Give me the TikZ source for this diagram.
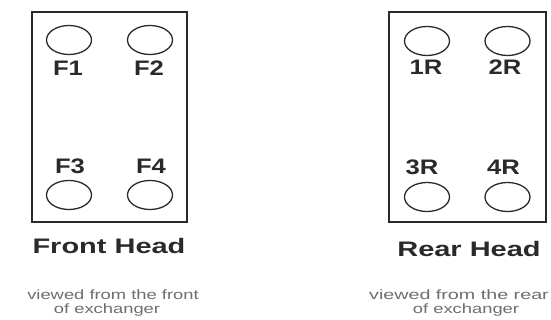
\documentclass[tikz,border=0pt]{standalone}
\usepackage{fontspec}
\setmainfont{Liberation Sans}
\newfontfamily\labfont[FakeStretch=1.22]{Liberation Sans}
\newfontfamily\headfont[FakeStretch=1.38]{Liberation Sans}
\newfontfamily\notefont[FakeStretch=1.36]{Liberation Sans}
\newfontfamily\notewidefont[FakeStretch=1.46]{Liberation Sans}
\usetikzlibrary{shapes.geometric}
\definecolor{ink}{HTML}{2A2A2A}
\definecolor{notegray}{HTML}{6E6E6E}
\tikzset{
  headbox/.style={draw=ink, line width=2pt},
  port/.style={draw=ink, line width=1.3pt, ellipse, minimum width=45pt, minimum height=29pt, inner sep=0pt},
  lab/.style={font=\labfont\bfseries\fontsize{21}{21}\selectfont, text=ink, inner sep=0pt},
  headlab/.style={font=\headfont\bfseries\fontsize{21}{21}\selectfont, text=ink, inner sep=0pt, anchor=base},
  note/.style={font=\notefont\fontsize{13.5}{13.5}\selectfont, text=notegray, inner sep=0pt, anchor=base}
}
\begin{document}
\begin{tikzpicture}[x=1pt,y=-1pt]
\clip (0,0) rectangle (551,320);
\fill[white] (0,0) rectangle (551,320);
% front head
\node[headbox, minimum width=155pt, minimum height=210pt, inner sep=0pt] (front) at (109,116.7) {};
\node[port] (f1) at (69,40) {};
\node[port] (f2) at (150,40) {};
\node[port] (f3) at (69,195) {};
\node[port] (f4) at (150,195) {};
\node[lab] (f1l) at (68,68) {F1};
\node[lab] (f2l) at (149,68) {F2};
\node[lab] (f3l) at (70,166) {F3};
\node[lab] (f4l) at (151,166) {F4};
\node[headlab] (fh) at (109,253.5) {Front Head};
\node[note] (fn1) at (113,299) {viewed from the front};
\node[note] (fn2) at (107,313) {of exchanger};
% rear head
\node[headbox, minimum width=157pt, minimum height=210pt, inner sep=0pt] (rear) at (467.5,116.7) {};
\node[port] (r1) at (427,41) {};
\node[port] (r2) at (507.5,41) {};
\node[port] (r3) at (427,197) {};
\node[port] (r4) at (507.5,197) {};
\node[lab] (r1l) at (426,67.5) {1R};
\node[lab] (r2l) at (505,67.5) {2R};
\node[lab] (r3l) at (422,167.5) {3R};
\node[lab] (r4l) at (503.5,167.5) {4R};
\node[headlab] (rh) at (469,256) {Rear Head};
\node[note, anchor=base east, font=\notewidefont\fontsize{13.5}{13.5}\selectfont] (rn1) at (549,299) {viewed from the rear};
\node[note] (rn2) at (466,313) {of exchanger};
\end{tikzpicture}
\end{document}
